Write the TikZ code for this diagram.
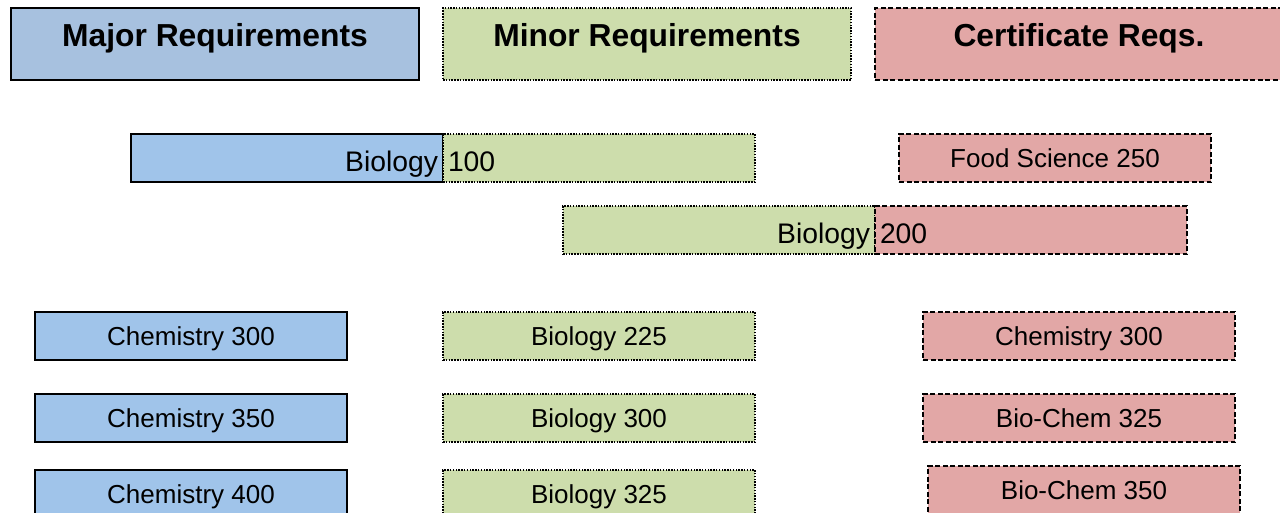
\documentclass[tikz,border=0pt]{standalone}
\usepackage{fontspec}
\setmainfont{Liberation Sans}
\usetikzlibrary{positioning}
\definecolor{headblue}{HTML}{A7C1DF}
\definecolor{majorblue}{HTML}{A0C4EA}
\definecolor{minorgreen}{HTML}{CDDDAC}
\definecolor{certred}{HTML}{E2A7A6}
\newcommand{\majorx}{191}
\newcommand{\minorx}{599}
\newcommand{\certx}{1079}

\tikzset{
  course/.style={minimum width=312pt, inner sep=0pt, outer sep=0pt, line width=1.5pt,
    text height=33pt, text depth=15pt, font=\fontsize{26}{30}\selectfont},
  split/.style={course, text width=302pt, text height=37.5pt, text depth=10.5pt,
    font=\fontsize{28.3}{32}\selectfont},
  headbox/.style={course, minimum width=408pt, text height=38.5pt, text depth=33.5pt,
    font=\bfseries\fontsize{31.8}{36}\selectfont},
  majorbox/.style={draw=black, fill=majorblue},
  minorbox/.style={draw=black, fill=minorgreen, dash pattern=on 1.5pt off 1.3pt},
  certbox/.style={draw=black, fill=certred, dash pattern=on 5pt off 2.5pt},
}

\begin{document}
\begin{tikzpicture}[x=1pt,y=-1pt]

\clip (0,0) rectangle (1280,512);

% headers
\node[headbox, majorbox, fill=headblue] (majorhead) at (215,44) {Major Requirements};
\node[headbox, minorbox] (minorhead) at (647,44) {Minor Requirements};
\node[headbox, certbox] (certhead) at (1079,44) {Certificate Reqs.};

% shared courses
\node[course, split, majorbox, align=right] (bio100a) at (287,158) {Biology};
\node[course, split, minorbox, align=left, anchor=west] (bio100b) at (bio100a.east) {100};
\node[course, certbox] (food250) at (1055,158) {Food Science 250};

\node[course, split, minorbox, align=right] (bio200a) at (719,230) {Biology};
\node[course, split, certbox, align=left, anchor=west] (bio200b) at (bio200a.east) {200};

% major
\node[course, majorbox] (chem300) at (\majorx,336) {Chemistry 300};
\node[course, majorbox] (chem350) at (\majorx,418) {Chemistry 350};
\node[course, majorbox] (chem400) at (\majorx,494) {Chemistry 400};

% minor
\node[course, minorbox] (bio225) at (\minorx,336) {Biology 225};
\node[course, minorbox] (bio300) at (\minorx,418) {Biology 300};
\node[course, minorbox] (bio325) at (\minorx,494) {Biology 325};

% certificate
\node[course, certbox] (certchem300) at (\certx,336) {Chemistry 300};
\node[course, certbox] (biochem325) at (\certx,418) {Bio-Chem 325};
\node[course, certbox] (biochem350) at (1084,490) {Bio-Chem 350};

\end{tikzpicture}
\end{document}
